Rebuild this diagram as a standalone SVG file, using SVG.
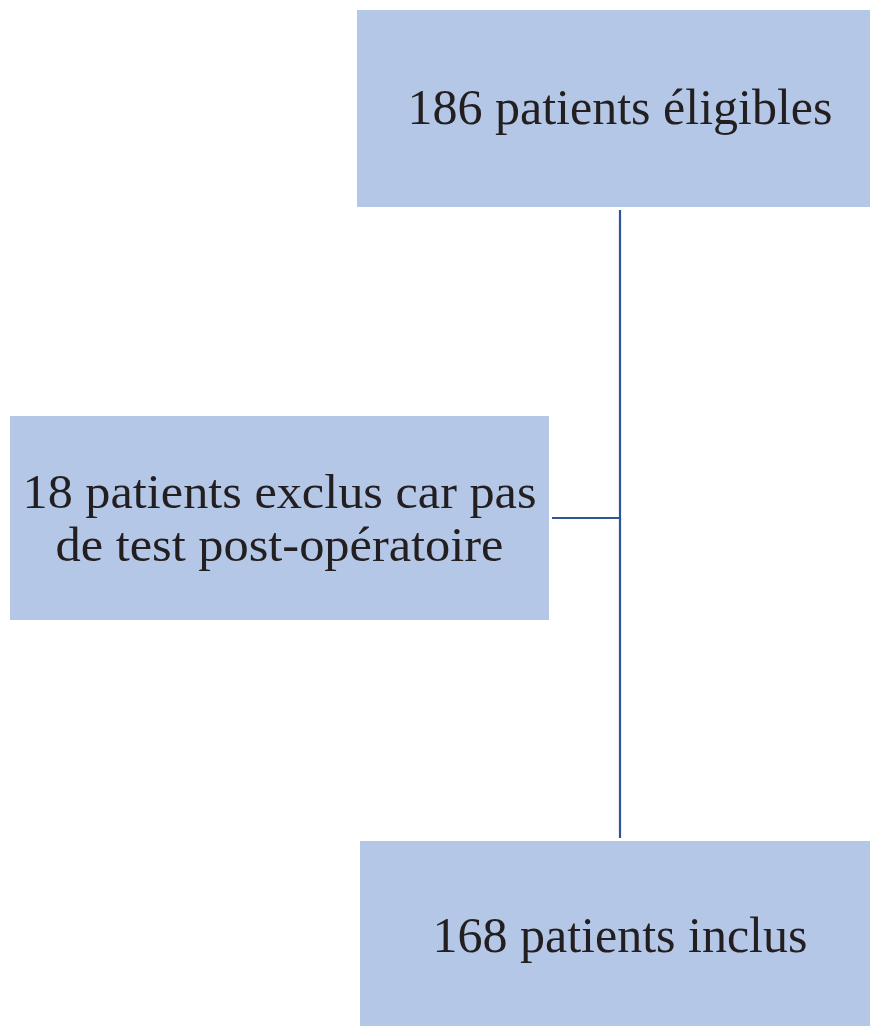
<svg xmlns="http://www.w3.org/2000/svg" width="870" height="1026" viewBox="0 0 870 1026">
<style>
.box{fill:#b4c7e7;stroke:none}
.lbl{font-family:"Liberation Serif","Times New Roman",serif;font-size:50px;fill:#231f20;text-anchor:middle}
.lbl2{font-family:"Liberation Serif","Times New Roman",serif;font-size:48px;fill:#231f20;text-anchor:middle}
.conn{stroke:#2f5597;stroke-width:2.2;fill:none}
</style>
<rect width="870" height="1026" fill="#ffffff"/>
<g id="connectors">
<line class="conn" x1="620" y1="210" x2="620" y2="838"/>
<line class="conn" x1="552" y1="518" x2="621" y2="518"/>
</g>
<g id="node-eligibles">
<rect class="box" x="357" y="10" width="513" height="197"/>
<text class="lbl" x="620" y="124">186 patients éligibles</text>
</g>
<g id="node-exclus">
<rect class="box" x="10" y="416" width="539" height="204"/>
<text class="lbl2" x="279.5" y="508" textLength="514" lengthAdjust="spacingAndGlyphs">18 patients exclus car pas</text>
<text class="lbl2" x="279.5" y="561" textLength="448" lengthAdjust="spacingAndGlyphs">de test post-opératoire</text>
</g>
<g id="node-inclus">
<rect class="box" x="360" y="841" width="510" height="185"/>
<text class="lbl" x="620" y="952">168 patients inclus</text>
</g>
</svg>
